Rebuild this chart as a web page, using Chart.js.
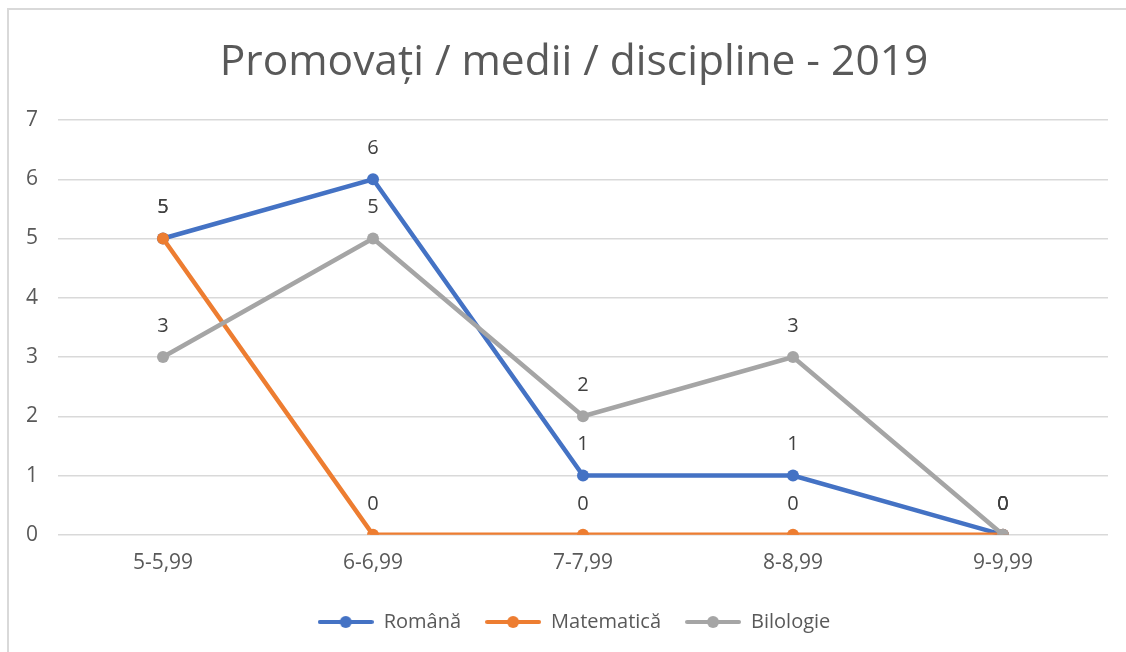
<!DOCTYPE html>
<html>
<head>
<meta charset="utf-8">
<script src="https://cdn.jsdelivr.net/npm/chart.js@4.4.1/dist/chart.umd.min.js"></script>
<style>
  html, body { margin: 0; padding: 0; background: #fff; }
  #wrap { position: absolute; left: 0; top: 0; width: 1126px; height: 652px; }
  #frame { position: absolute; left: 7px; top: 8px; width: 1119px; height: 644px;
           border-left: 2px solid #d9d9d9; border-top: 2px solid #d9d9d9; box-sizing: border-box; }
  canvas { position: absolute; left: 0; top: 0; }
</style>
</head>
<body>
<div id="wrap">
  <div id="frame"></div>
  <canvas id="line_chart" width="1126" height="652"></canvas>
</div>
<script>
  var categories = ["5-5,99", "6-6,99", "7-7,99", "8-8,99", "9-9,99"];
  var romana = [5, 6, 1, 1, 0];
  var matematica = [5, 0, 0, 0, 0];
  var biologie = [3, 5, 2, 3, 0];

  var fontName = "'Open Sans', 'Noto Sans', sans-serif";

  // little line + dot symbol for the legend
  function legendSymbol(color) {
    var c = document.createElement('canvas');
    c.width = 56; c.height = 14;
    var g = c.getContext('2d');
    g.strokeStyle = color;
    g.lineWidth = 4;
    g.lineCap = 'round';
    g.beginPath();
    g.moveTo(2, 7); g.lineTo(54, 7);
    g.stroke();
    g.fillStyle = color;
    g.beginPath();
    g.arc(28, 7, 6, 0, Math.PI * 2);
    g.fill();
    return c;
  }

  // draws the value above every point
  var valueLabels = {
    id: 'valueLabels',
    afterDatasetsDraw: function(chart) {
      var ctx = chart.ctx;
      ctx.save();
      ctx.font = "20px " + fontName;
      ctx.fillStyle = "#404040";
      ctx.textAlign = "center";
      ctx.textBaseline = "middle";
      chart.data.datasets.forEach(function(ds, i) {
        var meta = chart.getDatasetMeta(i);
        meta.data.forEach(function(pt, j) {
          ctx.fillText(ds.data[j], pt.x, pt.y - 31);
        });
      });
      ctx.restore();
    }
  };

  // centre title and legend over the plot area instead of the canvas
  var centreBlocks = {
    id: 'centreBlocks',
    afterLayout: function(chart) {
      var shift = 10;
      [chart.titleBlock, chart.legend].forEach(function(b) {
        if (b) { b.left += shift; b.right += shift; }
      });
    }
  };

  var ctx = document.getElementById("line_chart");
  var line_chart = new Chart(ctx, {
    type: 'line',
    data: {
      labels: categories,
      datasets: [
        {
          label: "Română",
          data: romana,
          borderColor: "#4472C4",
          backgroundColor: "#4472C4",
          order: 3
        },
        {
          label: "Matematică",
          data: matematica,
          borderColor: "#ED7D31",
          backgroundColor: "#ED7D31",
          order: 2
        },
        {
          label: "Bilologie",
          data: biologie,
          borderColor: "#A5A5A5",
          backgroundColor: "#A5A5A5",
          order: 1
        }
      ]
    },
    options: {
      responsive: false,
      animation: false,
      layout: { padding: { left: 20, right: 18, top: 0, bottom: 10 } },
      elements: {
        line: { borderWidth: 4.5, tension: 0, fill: false },
        point: { radius: 6, borderWidth: 0, hoverRadius: 6 }
      },
      scales: {
        x: {
          offset: true,
          grid: { display: false },
          border: { display: false },
          ticks: { color: "#595959", font: { family: fontName, size: 21 }, padding: 8 },
          afterFit: function(s) { s.height += 4; }
        },
        y: {
          min: 0,
          max: 7,
          ticks: { stepSize: 1, color: "#595959", font: { family: fontName, size: 21 }, padding: 20 },
          grid: { color: "#d9d9d9", lineWidth: 1.5, drawTicks: false },
          border: { display: false },
          afterFit: function(s) { s.width = 38; }
        }
      },
      plugins: {
        tooltip: { enabled: false },
        title: {
          display: true,
          text: "Promovați / medii / discipline - 2019",
          color: "#595959",
          font: { family: fontName, size: 42.5, weight: 'normal' },
          padding: { top: 37, bottom: 32 }
        },
        legend: {
          position: 'bottom',
          labels: {
            usePointStyle: true,
            pointStyleWidth: 56,
            color: "#595959",
            font: { family: fontName, size: 20 },
            padding: 24,
            generateLabels: function(chart) {
              return chart.data.datasets.map(function(ds, i) {
                return {
                  text: ds.label,
                  pointStyle: legendSymbol(ds.borderColor),
                  fontColor: "#595959",
                  datasetIndex: i,
                  hidden: false,
                  lineWidth: 0
                };
              });
            }
          }
        }
      }
    },
    plugins: [valueLabels, centreBlocks]
  });
</script>
</body>
</html>
